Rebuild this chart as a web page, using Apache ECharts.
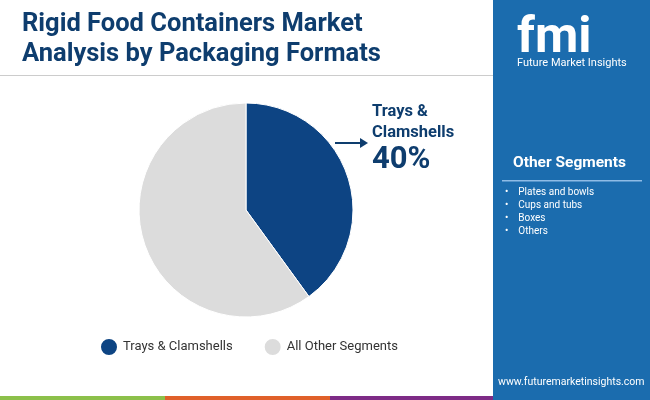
<!DOCTYPE html>
<html><head><meta charset="utf-8">
<script src="https://cdn.jsdelivr.net/npm/echarts@6/dist/echarts.min.js"></script>
<style>html,body{margin:0;padding:0;background:#fff}#c{width:650px;height:400px}</style>
</head><body><div id="c"></div>
<script>
var categories = ['Trays & Clamshells', 'All Other Segments'];
var values = [40, 60];
var otherSegments = ['Plates and bowls', 'Cups and tubs', 'Boxes', 'Others'];

var chart = echarts.init(document.getElementById('c'));
var font = 'Roboto';
var option = {
  animation: false,
  title: {
    text: 'Rigid Food Containers Market\nAnalysis by Packaging Formats',
    left: 17, top: 5,
    textStyle: {color: '#0e3d6e', fontSize: 25.5, fontWeight: 'bold', fontFamily: font, lineHeight: 30}
  },
  legend: {
    bottom: 38, left: 94, itemGap: 30,
    icon: 'circle', itemWidth: 18, itemHeight: 18,
    textStyle: {color: '#333', fontSize: 13, fontFamily: font},
    data: categories
  },
  graphic: [
    {type: 'rect', shape: {x: 0, y: 75, width: 493, height: 1}, style: {fill: '#cccccc'}},
    {type: 'rect', shape: {x: 493, y: 0, width: 157, height: 400}, style: {fill: '#1b6cae'}},
    {type: 'text', left: 517, top: 14, style: {text: 'fmi', fill: '#fff', font: 'bold 50px Roboto'}},
    {type: 'text', left: 517, top: 58, style: {text: 'Future Market Insights', fill: '#fff', font: '11px Roboto'}},
    {type: 'text', left: 513, top: 155, style: {text: 'Other Segments', fill: '#fff', font: 'bold 15.5px Roboto'}},
    {type: 'rect', shape: {x: 502, y: 180, width: 140, height: 1.5}, style: {fill: '#8fbce6'}},
    {type: 'text', left: 505, top: 186, style: {text: otherSegments.map(function (s) { return '•    ' + s; }).join('\n'), fill: '#fff', font: '10px Roboto', lineHeight: 13}},
    {type: 'text', left: 498, top: 377, style: {text: 'www.futuremarketinsights.com', fill: '#fff', font: '10.5px Roboto'}},
    {type: 'rect', shape: {x: 0, y: 396, width: 165, height: 4}, style: {fill: '#8cc04a'}},
    {type: 'rect', shape: {x: 165, y: 396, width: 165, height: 4}, style: {fill: '#e0602a'}},
    {type: 'rect', shape: {x: 330, y: 396, width: 163, height: 4}, style: {fill: '#7e2b86'}},
    {type: 'text', left: 372, top: 101, style: {text: 'Trays &\nClamshells', fill: '#0e3d6e', font: 'bold 16.5px Roboto', lineHeight: 21}},
    {type: 'text', left: 372, top: 145, style: {text: values[0] + '%', fill: '#0e3d6e', font: 'bold 31px Roboto'}},
    {type: 'line', shape: {x1: 335, y1: 143, x2: 362, y2: 143}, style: {stroke: '#0e3d6e', lineWidth: 2}},
    {type: 'polygon', shape: {points: [[368, 143], [360, 138], [360, 148]]}, style: {fill: '#0e3d6e'}}
  ],
  series: [{
    type: 'pie',
    center: [246, 210], radius: 107,
    startAngle: 90, clockwise: true,
    label: {show: false}, labelLine: {show: false},
    itemStyle: {borderColor: '#fff', borderWidth: 1},
    color: ['#0d4483', '#dcdcdc'],
    data: categories.map(function (c, i) { return {name: c, value: values[i]}; })
  }]
};
chart.setOption(option);
</script></body></html>
